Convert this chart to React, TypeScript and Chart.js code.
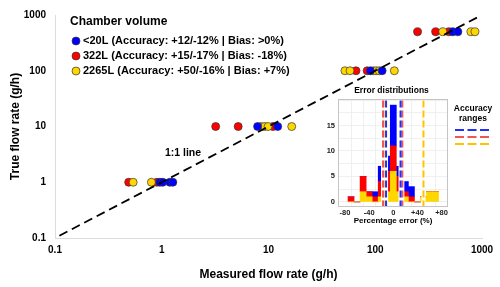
import React, { useEffect, useRef } from 'react';
import { Chart, registerables } from 'chart.js';

Chart.register(...registerables);

const FONT = "'Liberation Sans', Arial, Helvetica, sans-serif";

// ---------- main chart data ----------
const axisTicks = [0.1, 1, 10, 100, 1000];
const seriesLabels = [
  '<20L (Accuracy: +12/-12% | Bias: >0%)',
  '322L (Accuracy: +15/-17% | Bias: -18%)',
  '2265L (Accuracy: +50/-16% | Bias: +7%)',
];
const legendTitle = 'Chamber volume';

// <20L
const smallMeasured = [0.96, 1.02, 1.19, 1.27, 7.9, 12.2, 90, 116, 532, 594];
const smallTrue = [1, 1, 1, 1, 10, 10, 100, 100, 500, 500];
// 322L
const midMeasured = [0.49, 0.9, 3.2, 5.2, 11.0, 66, 84, 249, 368, 489];
const midTrue = [1, 1, 10, 10, 10, 100, 100, 500, 500, 500];
// 2265L
const largeMeasured = [0.54, 0.8, 8.5, 9.2, 9.9, 16.5, 52, 58, 96, 102, 109, 151, 429, 787, 859];
const largeTrue = [1, 1, 10, 10, 10, 10, 100, 100, 100, 100, 100, 100, 500, 500, 500];

const identityLine = [0.11, 950];

// ---------- inset data ----------
const binCenters = [-70, -60, -50, -40, -30, -20, -10, 0, 10, 20, 30, 40, 50, 60, 70];
const largeCounts = [0, 0, 2, 1, 0, 1, 2, 6, 2, 1, 0, 0, 1, 2, 2];
const midCounts = [1, 0, 3, 1, 1, 3, 4, 5, 3, 1, 1, 0, 0, 0, 0];
const smallCounts = [0, 0, 0, 0, 1, 3, 3, 8, 2, 2, 2, 0, 0, 0, 0];
const accuracyLow = [-12, -17, -16];
const accuracyHigh = [12, 15, 50];
const insetXGrid = [-80, -60, -40, -20, 0, 20, 40, 60, 80];
const insetYGrid = [0, 2.5, 5, 7.5, 10, 12.5, 15, 17.5, 20];
const insetYLabels = [0, 5, 10, 15];

const BLUE = '#0000ff';
const RED = '#ff0000';
const GOLD = '#ffd700';
const pointColors = [BLUE, RED, GOLD];
const lineColors = ['#1f2fff', '#f25555', '#ffc400'];

export default function App() {
  const mainRef = useRef<HTMLCanvasElement>(null);
  const insetRef = useRef<HTMLCanvasElement>(null);

  useEffect(() => {
    const toPts = (xs: number[], ys: number[]) => xs.map((x, i) => ({ x, y: ys[i] }));
    const pointDs = (label: string, xs: number[], ys: number[], color: string, order: number) => ({
      type: 'scatter' as const,
      label,
      data: toPts(xs, ys),
      backgroundColor: color,
      borderColor: '#333',
      borderWidth: 0.7,
      pointRadius: 4,
      order,
    });

    const mainLegend = {
      id: 'mainLegend',
      afterDraw(chart: any) {
        const { ctx, chartArea, scales } = chart;
        ctx.save();
        ctx.textBaseline = 'middle';
        ctx.textAlign = 'left';
        ctx.fillStyle = '#000';
        ctx.font = `bold 12px ${FONT}`;
        const lx = chartArea.left + 15;
        ctx.fillText(legendTitle, lx, chartArea.top + 7);
        seriesLabels.forEach((label, i) => {
          const y = chartArea.top + 26 + i * 15;
          ctx.beginPath();
          ctx.arc(lx + 6, y, 4, 0, Math.PI * 2);
          ctx.fillStyle = pointColors[i];
          ctx.fill();
          ctx.lineWidth = 0.7;
          ctx.strokeStyle = '#333';
          ctx.stroke();
          ctx.fillStyle = '#000';
          ctx.font = `bold 11px ${FONT}`;
          ctx.fillText(label, lx + 13, y);
        });
        ctx.font = `bold 10.5px ${FONT}`;
        ctx.fillText('1:1 line', scales.x.getPixelForValue(1.07), scales.y.getPixelForValue(3.3));
        ctx.restore();
      },
    };

    const tickFont = { family: FONT, size: 10, weight: 'bold' as const };
    const titleFont = { family: FONT, size: 12, weight: 'bold' as const };

    const main = new Chart(mainRef.current as HTMLCanvasElement, {
      type: 'scatter',
      data: {
        datasets: [
          {
            type: 'scatter',
            label: '1:1 line',
            data: identityLine.map((v) => ({ x: v, y: v })),
            showLine: true,
            borderColor: '#000',
            borderWidth: 1.8,
            borderDash: [9, 5],
            pointRadius: 0,
            order: 0,
          } as any,
          pointDs(seriesLabels[0], smallMeasured, smallTrue, BLUE, 1),
          pointDs(seriesLabels[1], midMeasured, midTrue, RED, 3),
          pointDs(seriesLabels[2], largeMeasured, largeTrue, GOLD, 2),
        ],
      },
      options: {
        responsive: false,
        animation: false,
        layout: { padding: { left: 0, top: 11, right: 18, bottom: 0 } },
        plugins: { legend: { display: false }, tooltip: { enabled: false } },
        scales: {
          x: {
            type: 'logarithmic',
            min: 0.1,
            max: 1000,
            afterBuildTicks: (s: any) => {
              s.ticks = axisTicks.map((v) => ({ value: v }));
            },
            afterFit: (s: any) => {
              s.height = 49;
            },
            grid: { display: false, drawTicks: false },
            border: { display: true, color: '#dcdcdc', width: 1 },
            ticks: {
              font: tickFont,
              color: '#000',
              padding: 6,
              autoSkip: false,
              maxRotation: 0,
              callback: (v: any) => String(v),
            },
            title: {
              display: true,
              text: 'Measured flow rate (g/h)',
              font: titleFont,
              color: '#000',
              padding: { top: 0, bottom: 5 },
            },
          },
          y: {
            type: 'logarithmic',
            min: 0.1,
            max: 1000,
            afterBuildTicks: (s: any) => {
              s.ticks = axisTicks.map((v) => ({ value: v }));
            },
            afterFit: (s: any) => {
              s.width = 55;
            },
            grid: { display: false, drawTicks: false },
            border: { display: true, color: '#dcdcdc', width: 1 },
            ticks: {
              font: tickFont,
              color: '#000',
              padding: 9,
              autoSkip: false,
              callback: (v: any) => String(v),
            },
            title: {
              display: true,
              text: 'True flow rate (g/h)',
              font: titleFont,
              color: '#000',
              padding: { top: 8, bottom: 0 },
            },
          },
        },
      } as any,
      plugins: [mainLegend],
    });

    // ---------- inset ----------
    const insetDecor = {
      id: 'insetDecor',
      beforeDraw(chart: any) {
        const { ctx, chartArea: a } = chart;
        ctx.save();
        ctx.fillStyle = '#fff';
        ctx.fillRect(a.left, a.top, a.right - a.left, a.bottom - a.top);
        ctx.restore();
      },
      afterDraw(chart: any) {
        const { ctx, chartArea: a } = chart;
        ctx.save();
        ctx.strokeStyle = '#c4c4c4';
        ctx.lineWidth = 1;
        ctx.strokeRect(a.left + 0.5, a.top + 0.5, a.right - a.left - 1, a.bottom - a.top - 1);
        ctx.fillStyle = '#000';
        ctx.textAlign = 'center';
        ctx.textBaseline = 'middle';
        ctx.font = `bold 8.5px ${FONT}`;
        ctx.fillText('Error distributions', (a.left + a.right) / 2 - 1.5, a.top - 8);
        const lx = a.right + 25;
        ctx.fillText('Accuracy', lx, a.top + 10);
        ctx.fillText('ranges', lx, a.top + 20);
        lineColors.forEach((c, i) => {
          const y = a.top + 31 + i * 7;
          ctx.beginPath();
          ctx.setLineDash([9, 3.5]);
          ctx.strokeStyle = c;
          ctx.lineWidth = 2;
          ctx.moveTo(a.right + 7, y);
          ctx.lineTo(a.right + 43, y);
          ctx.stroke();
        });
        ctx.restore();
      },
    };

    const barDs = (label: string, counts: number[], color: string, order: number) => ({
      type: 'bar' as const,
      label,
      data: binCenters.map((c, i) => ({ x: c, y: counts[i] })),
      backgroundColor: color,
      borderWidth: 0,
      barPercentage: 1,
      categoryPercentage: 1,
      order,
    });

    const vLines: any[] = [];
    accuracyLow.forEach((lo, i) => {
      [lo, accuracyHigh[i]].forEach((v, k) => {
        vLines.push({
          type: 'line',
          label: 'halo' + i + k,
          data: [
            { x: v, y: -5 },
            { x: v, y: 25 },
          ],
          borderColor: '#fff',
          borderWidth: 4,
          pointRadius: 0,
          stack: 'halo' + i + k,
          order: 5,
        });
        vLines.push({
          type: 'line',
          label: 'acc' + i + k,
          data: [
            { x: v, y: -5 },
            { x: v, y: 25 },
          ],
          borderColor: lineColors[i],
          borderWidth: 2,
          borderDash: [7, 3],
          pointRadius: 0,
          stack: 'acc' + i + k,
          order: 1 + i * 0.1,
        });
      });
    });

    const insetTick = { family: FONT, size: 7.5, weight: 'bold' as const };

    const inset = new Chart(insetRef.current as HTMLCanvasElement, {
      type: 'bar',
      data: {
        datasets: [
          barDs('2265L', largeCounts, GOLD, 10),
          barDs('322L', midCounts, RED, 11),
          barDs('<20L', smallCounts, BLUE, 12),
          ...vLines,
        ],
      },
      options: {
        responsive: false,
        animation: false,
        layout: { padding: { left: 0, top: 19, right: 52, bottom: 0 } },
        plugins: { legend: { display: false }, tooltip: { enabled: false } },
        scales: {
          x: {
            type: 'linear',
            min: -81.5,
            max: 80.5,
            stacked: true,
            afterBuildTicks: (s: any) => {
              s.ticks = insetXGrid.map((v) => ({ value: v }));
            },
            afterFit: (s: any) => {
              s.height = 23;
            },
            grid: { color: '#ececec', drawTicks: false, lineWidth: 0.8 },
            border: { display: false },
            ticks: {
              font: insetTick,
              color: '#222',
              padding: 1,
              autoSkip: false,
              maxRotation: 0,
              callback: (v: any) => (v % 40 === 0 ? (v > 0 ? '+' + v : String(v)) : ''),
            },
            title: {
              display: true,
              text: 'Percentage error (%)',
              font: { family: FONT, size: 8, weight: 'bold' },
              color: '#000',
              padding: { top: 0, bottom: 4 },
            },
          },
          y: {
            type: 'linear',
            min: -1,
            max: 20.2,
            stacked: true,
            afterBuildTicks: (s: any) => {
              s.ticks = insetYGrid.map((v) => ({ value: v }));
            },
            afterFit: (s: any) => {
              s.width = 38;
            },
            grid: { color: '#ececec', drawTicks: false, lineWidth: 0.8 },
            border: { display: false },
            ticks: {
              font: insetTick,
              color: '#222',
              padding: 3,
              autoSkip: false,
              callback: (v: any) => (insetYLabels.includes(v) ? String(v) : ''),
            },
          },
        },
      } as any,
      plugins: [insetDecor],
    });

    return () => {
      main.destroy();
      inset.destroy();
    };
  }, []);

  return (
    <div style={{ position: 'absolute', left: 0, top: 0, width: 500, height: 287, background: '#fff' }}>
      <canvas ref={mainRef} width={500} height={287} style={{ position: 'absolute', left: 0, top: 0 }} />
      <canvas ref={insetRef} width={200} height={150} style={{ position: 'absolute', left: 300, top: 80 }} />
    </div>
  );
}
